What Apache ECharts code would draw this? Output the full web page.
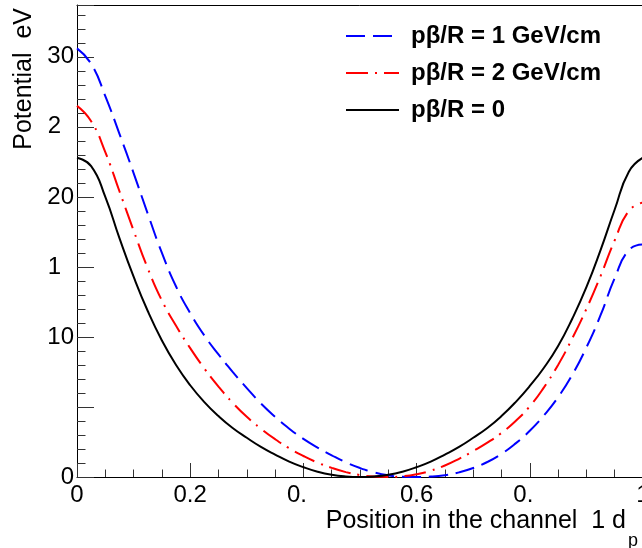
<!DOCTYPE html>
<html>
<head>
<meta charset="utf-8">
<script src="https://cdn.jsdelivr.net/npm/echarts@6/dist/echarts.min.js"></script>
<style>
html,body{margin:0;padding:0;background:#fff;}
#chart{width:642px;height:548px;}
</style>
</head>
<body>
<div id="chart"></div>
<script>
// ---- data ----
const seriesNames = ['p\u03B2/R = 1 GeV/cm', 'p\u03B2/R = 2 GeV/cm', 'p\u03B2/R = 0'];

const xPos = [0, 0.025, 0.05, 0.075, 0.1, 0.125, 0.15, 0.175, 0.2, 0.225, 0.25, 0.275, 0.3, 0.325, 0.35, 0.375, 0.4, 0.425, 0.45, 0.475, 0.5,
              0.525, 0.55, 0.575, 0.6, 0.625, 0.65, 0.675, 0.7, 0.725, 0.75, 0.775, 0.8, 0.825, 0.85, 0.875, 0.9, 0.925, 0.95, 0.975, 1.0];

const yBlue = [30.6, 29.5, 27.2, 24.5, 21.7, 18.8, 16.0, 13.6, 11.7, 10.1, 8.75, 7.5, 6.35, 5.25, 4.3, 3.45, 2.72, 2.1, 1.55, 1.05, 0.64,
               0.33, 0.12, 0.02, 0, 0.03, 0.13, 0.33, 0.64, 1.07, 1.65, 2.4, 3.3, 4.4, 5.7, 7.3, 9.25, 11.55, 14.2, 16.2, 16.6];

const yRed = [26.5, 25.4, 23.2, 20.4, 17.6, 14.9, 12.6, 10.8, 9.2, 7.75, 6.45, 5.3, 4.3, 3.45, 2.7, 2.05, 1.5, 1.03, 0.65, 0.35, 0.14,
              0.03, 0, 0.05, 0.2, 0.45, 0.82, 1.3, 1.85, 2.45, 3.15, 4.0, 5.05, 6.4, 8.0, 9.9, 12.0, 14.35, 16.9, 19.0, 19.6];

const yBlack = [22.8, 22.2, 20.0, 17.05, 14.3, 11.85, 9.75, 8.0, 6.55, 5.35, 4.35, 3.5, 2.8, 2.15, 1.6, 1.1, 0.7, 0.38, 0.16, 0.04, 0,
                0.04, 0.16, 0.38, 0.7, 1.1, 1.6, 2.15, 2.8, 3.5, 4.35, 5.35, 6.5, 7.8, 9.35, 11.3, 13.55, 16.2, 19.1, 21.8, 22.8];

// tick labels as they appear (some are truncated in the original)
const xTickLabels = {0: '0', 0.2: '0.2', 0.4: '0.', 0.6: '0.6', 0.8: '0.', 1: '1'};
const yTickLabels = {0: '0', 5: '', 10: '10', 15: '1', 20: '20', 25: '2', 30: '30'};

const xTitle = 'Position in the channel  1 d';
const xTitleSub = 'p';
const yTitle = 'Potential  eV';

// ---- chart ----
const zip = (xs, ys) => xs.map((x, i) => [x, ys[i]]);
const FONT = '"Liberation Sans", Arial, Helvetica, sans-serif';
const chart = echarts.init(document.getElementById('chart'), null, {renderer: 'canvas'});

function xLabel(v) {
  const key = Math.round(v * 10) / 10;
  const s = xTickLabels[key];
  if (s === undefined) return '';
  if (s === '0.') return '{t|0.}';
  return s;
}
function yLabel(v) {
  const key = Math.round(v);
  if (Math.abs(v - key) > 1e-6) return '';
  const s = yTickLabels[key];
  if (s === undefined) return '';
  if (s.length === 1 && key >= 10) return '{t|' + s + '}';
  return s;
}

const option = {
  animation: false,
  backgroundColor: '#fff',
  grid: {left: 77, top: 5, right: -1, bottom: 71, containLabel: false, outerBoundsMode: 'none'},
  xAxis: [{
    type: 'value', min: 0, max: 1, interval: 0.2, position: 'bottom',
    axisLine: {show: true, onZero: false, lineStyle: {color: '#000', width: 1}},
    axisTick: {show: true, inside: true, length: 14, lineStyle: {color: '#333', width: 1}},
    minorTick: {show: true, splitNumber: 4, length: 7.5, lineStyle: {color: '#333', width: 1}},
    splitLine: {show: false},
    axisLabel: {show: true, margin: 6, showMaxLabel: true, showMinLabel: true, color: '#000', fontSize: 24, fontFamily: FONT,
      formatter: xLabel, rich: {t: {fontSize: 24, fontFamily: FONT, color: '#000', padding: [0, 13, 0, 0]}}}
  }, {
    type: 'value', min: 0, max: 1, position: 'top',
    axisLine: {show: true, onZero: false, lineStyle: {color: '#000', width: 1}},
    axisTick: {show: false}, axisLabel: {show: false}, splitLine: {show: false}
  }],
  yAxis: [{
    type: 'value', min: 0, max: 33.7, interval: 5, position: 'left',
    axisLine: {show: true, onZero: false, lineStyle: {color: '#000', width: 1}},
    axisTick: {show: true, inside: true, length: 17, lineStyle: {color: '#333', width: 1}},
    splitLine: {show: false},
    axisLabel: {show: true, margin: 3, showMaxLabel: true, color: '#000', fontSize: 24, fontFamily: FONT,
      formatter: yLabel, rich: {t: {fontSize: 24, fontFamily: FONT, color: '#000', padding: [0, 13, 0, 0]}}}
  }, {
    type: 'value', min: 0, max: 33.7, interval: 1, position: 'left',
    axisLine: {show: false},
    axisTick: {show: true, inside: true, length: 8.5, lineStyle: {color: '#333', width: 1}},
    axisLabel: {show: false}, splitLine: {show: false}
  }],
  legend: {
    orient: 'vertical', left: 345, top: 24, padding: 0,
    itemWidth: 53, itemHeight: 14, itemGap: 13,
    itemStyle: {opacity: 0, borderWidth: 0},
    data: seriesNames,
    textStyle: {fontSize: 24, fontWeight: 'bold', fontFamily: FONT, color: '#000', lineHeight: 24, padding: [0, 0, 0, 7]}
  },
  graphic: [
    {type: 'text', x: 626, y: 521, style: {text: xTitle, fontSize: 25, fontFamily: FONT, fill: '#000', align: 'right', verticalAlign: 'middle'}},
    {type: 'text', x: 628, y: 541, style: {text: xTitleSub, fontSize: 18, fontFamily: FONT, fill: '#000', align: 'left', verticalAlign: 'middle'}},
    {type: 'text', x: 24, y: 8, rotation: Math.PI / 2, style: {text: yTitle, fontSize: 25, fontFamily: FONT, fill: '#000', align: 'right', verticalAlign: 'middle'}}
  ],
  series: [
    {name: seriesNames[0], type: 'line', data: zip(xPos, yBlue), showSymbol: false, symbol: 'none', smooth: 0.5,
      lineStyle: {color: '#0000ff', width: 2, type: [19, 8]}, itemStyle: {color: '#0000ff'}},
    {name: seriesNames[1], type: 'line', data: zip(xPos, yRed), showSymbol: false, symbol: 'none', smooth: 0.5,
      lineStyle: {color: '#ff0000', width: 2, type: [22, 7, 2, 7]}, itemStyle: {color: '#ff0000'}},
    {name: seriesNames[2], type: 'line', data: zip(xPos, yBlack), showSymbol: false, symbol: 'none', smooth: 0.5,
      lineStyle: {color: '#000000', width: 2, type: 'solid'}, itemStyle: {color: '#000000'}}
  ]
};
chart.setOption(option);
</script>
</body>
</html>
